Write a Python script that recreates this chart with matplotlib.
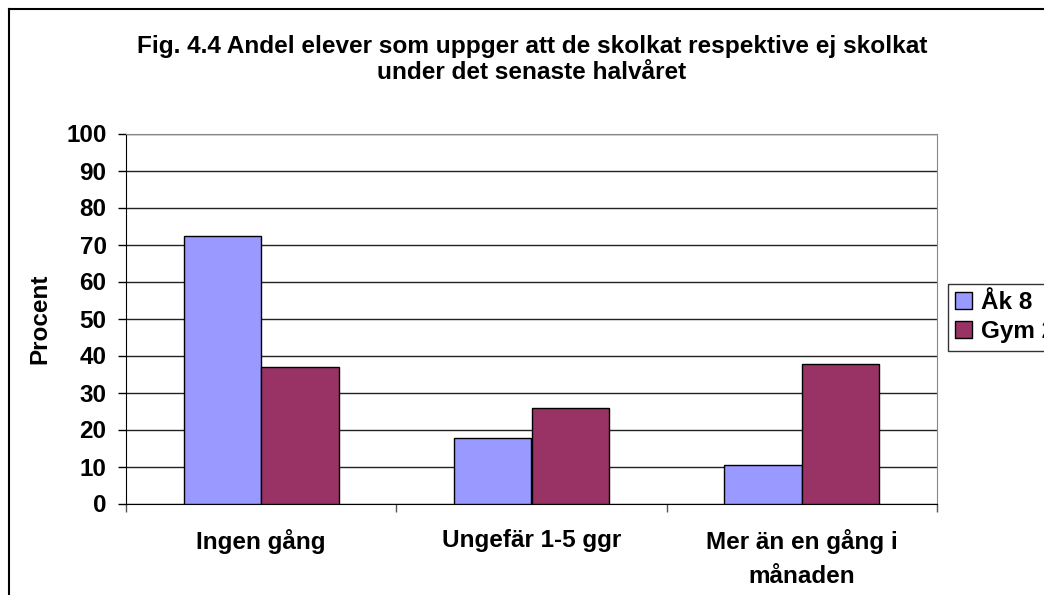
import matplotlib

matplotlib.use("Agg")
import matplotlib.pyplot as plt
from matplotlib.lines import Line2D
import numpy as np

plt.rcParams["font.family"] = ["Liberation Sans", "DejaVu Sans"]
plt.rcParams["font.weight"] = "bold"

categories = ["Ingen gång", "Ungefär 1-5 ggr", "Mer än en gång i\nmånaden"]
series_names = ["Åk 8", "Gym 2"]
ak8 = [72.2, 17.7, 10.4]
gym2 = [36.9, 25.7, 37.7]
colors = ["#9999FF", "#993366"]
yticks = list(range(0, 101, 10))

title = ("Fig. 4.4 Andel elever som uppger att de skolkat respektive ej skolkat\n"
         "under det senaste halvåret")

W, H = 1044, 595
fs = 17.5
fig = plt.figure(figsize=(W / 100, H / 100), dpi=100)
ax = fig.add_axes([126 / W, 1 - 503.5 / H, (937 - 126) / W, (503.5 - 133.5) / H])

x = np.arange(len(categories))
bw = 0.287
ax.bar(x - bw / 2, ak8, bw, color=colors[0], edgecolor="black", linewidth=1, label=series_names[0], zorder=3)
ax.bar(x + bw / 2, gym2, bw, color=colors[1], edgecolor="black", linewidth=1, label=series_names[1], zorder=3)

ax.set_xlim(-0.5, len(categories) - 0.5)
ax.set_ylim(0, 100)
ax.set_yticks(yticks)
ax.set_yticklabels([str(t) for t in yticks], fontsize=fs, fontweight="bold")
ax.tick_params(axis="y", direction="out", length=6, width=1, pad=8, color="black")

ax.set_xticks(x)
ax.set_xticklabels(categories, fontsize=fs, fontweight="bold", linespacing=1.6)
ax.tick_params(axis="x", which="major", length=0, pad=18.5)
ax.set_xticks(np.arange(len(categories) + 1) - 0.5, minor=True)
ax.tick_params(axis="x", which="minor", direction="out", length=6, width=1, color="#555555")

ax.grid(axis="y", color="#222222", linewidth=1, zorder=0)
ax.set_axisbelow(True)
for s in ["top", "right"]:
    ax.spines[s].set_color("#888888")
ax.spines["left"].set_color("black")
ax.spines["bottom"].set_color("black")

ax.set_ylabel("Procent", fontsize=fs, fontweight="bold", labelpad=10.5)

fig.text(532 / W, 1 - 59.5 / H, title, ha="center", va="center", fontsize=17.6,
         fontweight="bold", linespacing=1.2)

leg = fig.legend(loc="upper left", bbox_to_anchor=(948 / W, 1 - 284 / H), fontsize=fs,
                 frameon=True, fancybox=False, shadow=False, borderpad=0.3,
                 handlelength=0.7, handleheight=0.7, handletextpad=0.35,
                 labelspacing=0.25, borderaxespad=0)
leg.get_frame().set_edgecolor("black")
leg.get_frame().set_linewidth(1)
for t in leg.get_texts():
    t.set_fontweight("bold")

# outer chart border
fig.add_artist(Line2D([8.5 / W, 8.5 / W], [0, 1 - 8.5 / H], transform=fig.transFigure, color="black", lw=1.5))
fig.add_artist(Line2D([8.5 / W, 1], [1 - 8.5 / H, 1 - 8.5 / H], transform=fig.transFigure, color="black", lw=1.5))

fig.savefig("out.png", dpi=100)
